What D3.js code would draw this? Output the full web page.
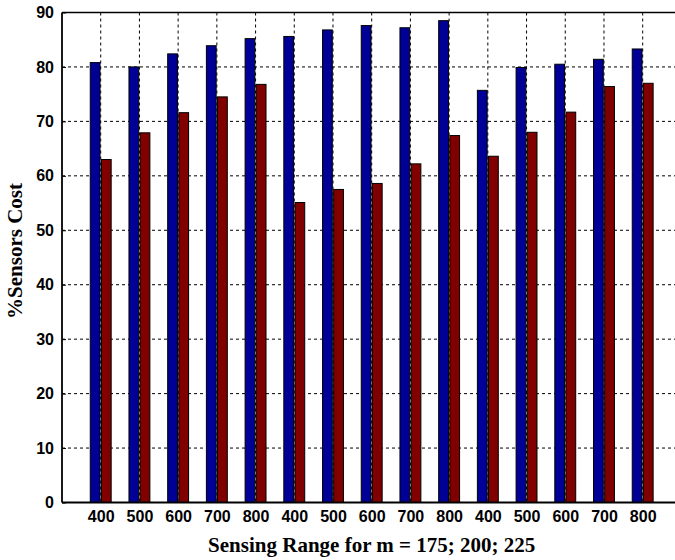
<!DOCTYPE html>
<html>
<head>
<meta charset="utf-8">
<script src="https://cdn.jsdelivr.net/npm/d3@7"></script>
<style>
  html, body { margin: 0; padding: 0; background: #fff; }
  svg { display: block; }
</style>
</head>
<body>
<svg id="chart" width="675" height="560"></svg>
<script>
// Sensing range groups (m = 175, 200, 225)
const categories = ["400", "500", "600", "700", "800",
                    "400", "500", "600", "700", "800",
                    "400", "500", "600", "700", "800"];
const seriesA = [80.8, 80.0, 82.4, 83.9, 85.2, 85.6, 86.8, 87.6, 87.2, 88.5, 75.7, 79.9, 80.5, 81.4, 83.3];
const seriesB = [63.0, 67.9, 71.6, 74.5, 76.8, 55.1, 57.5, 58.6, 62.2, 67.4, 63.6, 68.0, 71.7, 76.4, 77.0];
const yTicks = [0, 10, 20, 30, 40, 50, 60, 70, 80, 90];

const svg = d3.select("#chart");
const plotL = 62, plotT = 12.5, plotB = 502.5, plotR = 681.4;

const x = d3.scaleLinear().domain([0, categories.length + 1]).range([plotL, plotR]);
const y = d3.scaleLinear().domain([0, 90]).range([plotB, plotT]);

const g = svg.append("g");

// dashed grid
g.append("g").selectAll("line").data(yTicks.slice(1, -1)).join("line")
  .attr("x1", plotL).attr("x2", plotR)
  .attr("y1", d => y(d)).attr("y2", d => y(d))
  .attr("stroke", "#000").attr("stroke-width", 1).attr("stroke-dasharray", "3,3");
g.append("g").selectAll("line").data(categories).join("line")
  .attr("x1", (d, i) => x(i + 1)).attr("x2", (d, i) => x(i + 1))
  .attr("y1", plotT).attr("y2", plotB)
  .attr("stroke", "#000").attr("stroke-width", 1).attr("stroke-dasharray", "3,3");

// grouped bars
const w0 = 0.27, gap = 0.018;
const bars = g.append("g");
bars.append("g").selectAll("rect").data(seriesA).join("rect")
  .attr("x", (d, i) => x(i + 1 - w0))
  .attr("width", (d, i) => x(i + 1 - gap) - x(i + 1 - w0))
  .attr("y", d => y(d)).attr("height", d => y(0) - y(d))
  .attr("fill", "#000096").attr("stroke", "#000").attr("stroke-width", 1);
bars.append("g").selectAll("rect").data(seriesB).join("rect")
  .attr("x", (d, i) => x(i + 1 + gap))
  .attr("width", (d, i) => x(i + 1 + w0) - x(i + 1 + gap))
  .attr("y", d => y(d)).attr("height", d => y(0) - y(d))
  .attr("fill", "#800000").attr("stroke", "#000").attr("stroke-width", 1);

// axes frame
g.append("line").attr("x1", plotL).attr("x2", plotR).attr("y1", plotT).attr("y2", plotT)
  .attr("stroke", "#000").attr("stroke-width", 1.5);
g.append("line").attr("x1", plotL).attr("x2", plotR).attr("y1", plotB).attr("y2", plotB)
  .attr("stroke", "#000").attr("stroke-width", 1.8);
g.append("line").attr("x1", plotL).attr("x2", plotL).attr("y1", plotT).attr("y2", plotB)
  .attr("stroke", "#000").attr("stroke-width", 1.8);

// y axis
const yAxis = d3.axisLeft(y).tickValues(yTicks).tickSize(-4).tickPadding(8);
const ya = svg.append("g").attr("transform", `translate(${plotL},0)`).call(yAxis);
ya.select(".domain").remove();
ya.selectAll("text").attr("font-family", "Liberation Sans, Arial, sans-serif")
  .attr("font-weight", "bold").attr("font-size", 16).attr("fill", "#000");

// x axis
const xAxis = d3.axisBottom(x).tickValues(d3.range(1, categories.length + 1))
  .tickFormat(d => categories[d - 1]).tickSize(0).tickPadding(8);
const xa = svg.append("g").attr("transform", `translate(0,${plotB})`).call(xAxis);
xa.select(".domain").remove();
xa.selectAll("text").attr("font-family", "Liberation Sans, Arial, sans-serif")
  .attr("font-weight", "bold").attr("font-size", 16).attr("fill", "#000");

// axis titles
svg.append("text").attr("x", (plotL + plotR) / 2).attr("y", 551.5)
  .attr("text-anchor", "middle")
  .attr("font-family", "Liberation Serif, Times New Roman, serif")
  .attr("font-weight", "bold").attr("font-size", 21)
  .text("Sensing Range for m = 175; 200; 225");
svg.append("text")
  .attr("transform", `translate(22,251) rotate(-90)`)
  .attr("text-anchor", "middle")
  .attr("font-family", "Liberation Serif, Times New Roman, serif")
  .attr("font-weight", "bold").attr("font-size", 21)
  .text("%Sensors Cost");
</script>
</body>
</html>
